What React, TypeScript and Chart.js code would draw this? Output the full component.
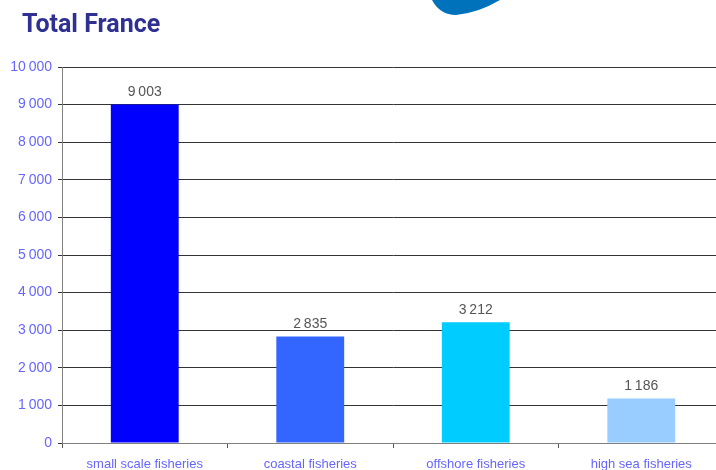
import React, { useEffect, useRef } from 'react';
import { Chart, registerables } from 'chart.js';

Chart.register(...registerables);

const titleText = 'Total France';
const categories = ['small scale fisheries', 'coastal fisheries', 'offshore fisheries', 'high sea fisheries'];
const values = [9003, 2835, 3212, 1186];
const barColors = ['#0000ff', '#3366ff', '#00ccff', '#99ccff'];
const yMin = 0;
const yMax = 10000;
const yStep = 1000;

const fmt = (v: number) => Math.round(v).toString().replace(/\B(?=(\d{3})+(?!\d))/g, '\u2009');

const valueLabels = {
  id: 'valueLabels',
  afterDatasetsDraw(chart: any) {
    const ctx = chart.ctx;
    const meta = chart.getDatasetMeta(0);
    ctx.save();
    ctx.font = '14px "Liberation Sans", Arial, sans-serif';
    ctx.fillStyle = '#555555';
    ctx.textAlign = 'center';
    ctx.textBaseline = 'alphabetic';
    meta.data.forEach((el: any, i: number) => {
      ctx.fillText(fmt(values[i]), el.x, el.y - 8);
    });
    ctx.restore();
  },
};

const headerDecor = {
  id: 'headerDecor',
  beforeDraw(chart: any) {
    const ctx = chart.ctx;
    ctx.save();
    ctx.fillStyle = '#0072bc';
    ctx.beginPath();
    ctx.moveTo(432, 0);
    ctx.quadraticCurveTo(440, 15, 456, 15);
    ctx.quadraticCurveTo(478, 13, 500, 0);
    ctx.closePath();
    ctx.fill();
    ctx.font = 'bold 25px Roboto, "Liberation Sans", sans-serif';
    ctx.fillStyle = '#2e3192';
    ctx.textAlign = 'left';
    ctx.textBaseline = 'alphabetic';
    ctx.fillText(titleText, 22, 32);
    ctx.restore();
  },
};

export default function App() {
  const ref = useRef<HTMLCanvasElement | null>(null);

  useEffect(() => {
    if (!ref.current) return;
    const chart = new Chart(ref.current, {
      type: 'bar',
      data: {
        labels: categories,
        datasets: [
          {
            data: values,
            backgroundColor: barColors,
            borderWidth: 0,
            categoryPercentage: 1,
            barPercentage: 0.41,
          },
        ],
      },
      plugins: [valueLabels, headerDecor],
      options: {
        animation: false,
        responsive: true,
        maintainAspectRatio: false,
        layout: { padding: { left: 0, right: 2, top: 67, bottom: 0 } },
        plugins: {
          legend: { display: false },
          tooltip: { enabled: false },
          title: { display: false },
        },
        scales: {
          x: {
            afterFit: (s: any) => { s.height = 27; },
            grid: { display: true, drawOnChartArea: false, drawTicks: true, tickLength: 5, color: '#555555', offset: true },
            border: { display: true, color: '#808080', width: 1 },
            ticks: {
              color: '#6666ff',
              padding: 9,
              font: { family: '"Liberation Sans", Arial, sans-serif', size: 13 },
              maxRotation: 0,
              autoSkip: false,
            },
          },
          y: {
            min: yMin,
            max: yMax,
            afterFit: (s: any) => { s.width = 62; },
            grid: { color: '#333333', lineWidth: 1, drawTicks: true, tickLength: 4 },
            border: { display: true, color: '#808080', width: 1 },
            ticks: {
              stepSize: yStep,
              color: '#6666ff',
              padding: 6,
              font: { family: '"Liberation Sans", Arial, sans-serif', size: 14 },
              callback: (v: any) => fmt(Number(v)),
            },
          },
        },
      },
    });
    return () => chart.destroy();
  }, []);

  return (
    <div style={{ position: 'fixed', left: 0, top: 0, width: 716, height: 470, overflow: 'hidden', background: '#ffffff' }}>
      <div style={{ position: 'absolute', left: 0, top: 0, width: 726, height: 470 }}>
        <canvas ref={ref} />
      </div>
    </div>
  );
}
